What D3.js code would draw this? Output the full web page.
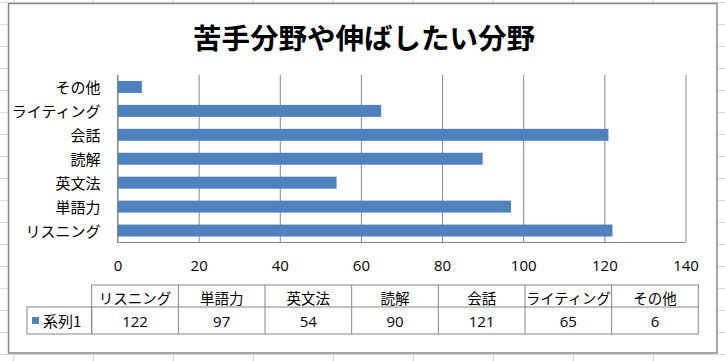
<!DOCTYPE html>
<html><head><meta charset="utf-8">
<script src="https://cdn.jsdelivr.net/npm/d3@7"></script>
<style>
html,body{margin:0;padding:0;background:#fff;}
svg{display:block;}
text{font-family:"Noto Sans CJK JP","Noto Sans",sans-serif;fill:#000;}
</style></head>
<body>
<svg id="c" width="725" height="361"></svg>
<script>
const title = "苦手分野や伸ばしたい分野";
const categories = ["リスニング","単語力","英文法","読解","会話","ライティング","その他"];
const values = [122,97,54,90,121,65,6];
const seriesName = "系列1";
const xTicks = [0,20,40,60,80,100,120,140];

const svg = d3.select("#c");
const W = 725, H = 361;

// spreadsheet background gridlines
const colX = d3.range(13, W, 80);
const rowY = d3.range(2.5, H, 22);
svg.append("g").selectAll("line.v").data(colX).join("line")
  .attr("x1", d => d + 0.5).attr("x2", d => d + 0.5).attr("y1", 0).attr("y2", H)
  .attr("stroke", "#d9d9d9").attr("stroke-width", 1);
svg.append("g").selectAll("line.h").data(rowY).join("line")
  .attr("x1", 0).attr("x2", W).attr("y1", d => d).attr("y2", d => d)
  .attr("stroke", "#d9d9d9").attr("stroke-width", 1);

// chart area
svg.append("rect").attr("x", 8.5).attr("y", 3.5).attr("width", 708.5).attr("height", 349.5)
  .attr("fill", "#fff").attr("stroke", "#868686").attr("stroke-width", 1.5);

// title
svg.append("text").attr("x", 364).attr("y", 36).attr("text-anchor", "middle")
  .attr("dominant-baseline", "central")
  .style("font-size", "28.5px").style("font-weight", "bold").text(title);

// scales
const plot = {x0: 117.5, x1: 685.5, y0: 75, y1: 242.5};
const x = d3.scaleLinear().domain([0, 140]).range([plot.x0, plot.x1]);
const y = d3.scaleBand().domain(categories.slice().reverse()).range([plot.y0, plot.y1])
  .paddingInner(0.5).paddingOuter(0.25);

// gridlines
svg.append("g").attr("transform", `translate(0,${plot.y0})`)
  .call(d3.axisBottom(x).tickValues(xTicks).tickSize(plot.y1 - plot.y0).tickFormat(""))
  .call(g => g.select(".domain").remove())
  .call(g => g.selectAll(".tick line").attr("stroke", "#868686"));

// bars
svg.append("g").selectAll("rect").data(categories).join("rect")
  .attr("x", x(0)).attr("y", d => y(d))
  .attr("width", (d, i) => x(values[i]) - x(0))
  .attr("height", y.bandwidth())
  .attr("fill", "#4f81bd");

// axes lines
svg.append("line").attr("x1", plot.x0).attr("x2", plot.x0).attr("y1", plot.y0).attr("y2", plot.y1)
  .attr("stroke", "#868686");
svg.append("line").attr("x1", plot.x0).attr("x2", plot.x1).attr("y1", plot.y1).attr("y2", plot.y1)
  .attr("stroke", "#868686");

// x tick labels
svg.append("g").attr("transform", `translate(0,${plot.y1})`)
  .call(d3.axisBottom(x).tickValues(xTicks).tickSize(0).tickPadding(0))
  .call(g => g.select(".domain").remove())
  .call(g => g.selectAll(".tick text").attr("y", 22).attr("dy", null)
    .attr("dominant-baseline", "central")
    .style("font-size", "15px").attr("fill", "#000")
    .style("font-family", "'Open Sans','Noto Sans',sans-serif"));

// category labels
svg.append("g").attr("transform", `translate(${plot.x0},0)`)
  .call(d3.axisLeft(y).tickSize(0).tickPadding(17))
  .call(g => g.select(".domain").remove())
  .call(g => g.selectAll(".tick text").attr("dy", null).attr("dominant-baseline", "central")
    .style("font-size", "15px").attr("fill", "#000"));

// data table
const tb = {x0: 91.7, x1: 698.3, legX: 27, yTop: 285, yMid: 307, yBot: 334};
const cx = d3.scaleBand().domain(categories).range([tb.x0, tb.x1]);
const tg = svg.append("g").attr("stroke", "#868686").attr("stroke-width", 1).attr("fill", "none");
tg.append("rect").attr("x", tb.x0).attr("y", tb.yTop).attr("width", tb.x1 - tb.x0).attr("height", tb.yBot - tb.yTop);
tg.append("rect").attr("x", tb.legX).attr("y", tb.yMid).attr("width", tb.x0 - tb.legX).attr("height", tb.yBot - tb.yMid);
tg.append("line").attr("x1", tb.x0).attr("x2", tb.x1).attr("y1", tb.yMid).attr("y2", tb.yMid);
tg.selectAll("line.c").data(categories.slice(1)).join("line")
  .attr("x1", d => cx(d)).attr("x2", d => cx(d)).attr("y1", tb.yTop).attr("y2", tb.yBot);

svg.append("g").selectAll("text").data(categories).join("text")
  .attr("x", d => cx(d) + cx.bandwidth() / 2).attr("y", (tb.yTop + tb.yMid) / 2 + 1)
  .attr("text-anchor", "middle").attr("dominant-baseline", "central")
  .style("font-size", "14.5px")
  .each(function(d) {
    const t = d3.select(this).text(d);
    const w = this.getComputedTextLength();
    if (w > cx.bandwidth() - 2) t.attr("textLength", cx.bandwidth() - 2).attr("lengthAdjust", "spacingAndGlyphs");
  });

svg.append("g").selectAll("text").data(values).join("text")
  .attr("x", (d, i) => cx(categories[i]) + cx.bandwidth() / 2).attr("y", (tb.yMid + tb.yBot) / 2)
  .attr("text-anchor", "middle").attr("dominant-baseline", "central")
  .style("font-size", "15px").style("font-family", "'Open Sans','Noto Sans',sans-serif")
  .text(d => d);

// legend key
svg.append("rect").attr("x", 32).attr("y", 317).attr("width", 7).attr("height", 7).attr("fill", "#4f81bd");
svg.append("text").attr("x", 43).attr("y", (tb.yMid + tb.yBot) / 2).attr("dominant-baseline", "central")
  .style("font-size", "15px").text(seriesName);
</script>
</body></html>
